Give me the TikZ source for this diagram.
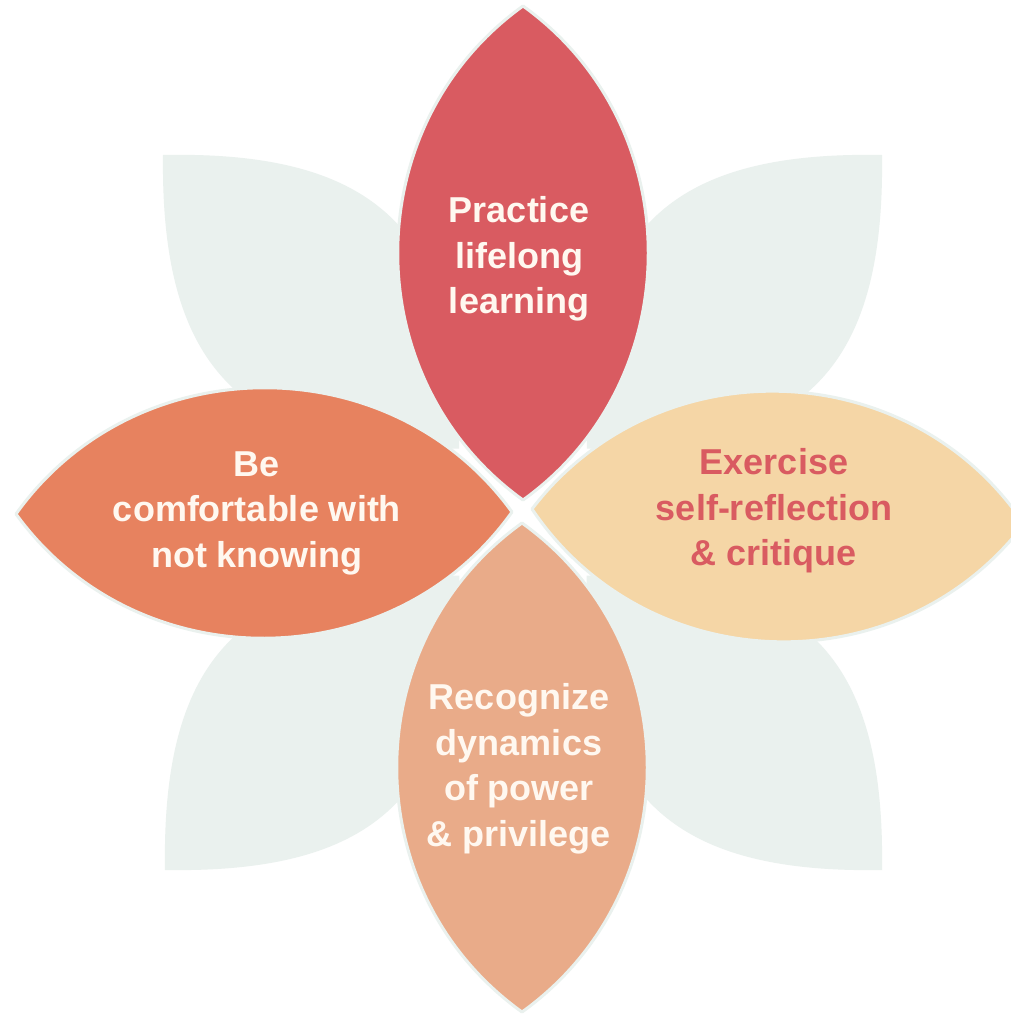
\documentclass[tikz,border=0pt]{standalone}
\usepackage{fontspec}
\newfontfamily\petalfont{Liberation Sans}
\usetikzlibrary{calc}

\definecolor{petalred}{HTML}{D95B61}
\definecolor{petalorange}{HTML}{E7825F}
\definecolor{petalpeach}{HTML}{F5D6A6}
\definecolor{petalsalmon}{HTML}{E9AB89}
\definecolor{leafpale}{HTML}{EAF1EE}
\definecolor{textcream}{HTML}{FFF8F0}

% A pointed leaf from tip #2 to tip #3: control points sit #4 along the axis
% and #5 off the axis, on both sides.
\newcommand\flowerleaf[5]{%
  \path[#1] (#2)
    .. controls ($(#2)!#4!(#3)!#5!90:(#3)$) and ($(#3)!#4!(#2)!#5!-90:(#2)$) .. (#3)
    .. controls ($(#3)!#4!(#2)!#5!90:(#2)$) and ($(#2)!#4!(#3)!#5!-90:(#3)$) .. (#2)
    -- cycle;}

\tikzset{
  paleleaf/.style={fill=leafpale},
  colorleaf/.style={fill=#1, draw=leafpale, line width=3pt, line join=round},
  petaltext/.style={text=#1, align=center,
    font=\petalfont\bfseries\fontsize{36}{45.5}\selectfont, inner sep=0pt},
}

\begin{document}
\begin{tikzpicture}[x=1pt,y=-1pt]
  \fill[white] (0,0) rectangle (1011,1014);
  \clip (0,0) rectangle (1011,1014);

  % diagonal background leaves
  \coordinate (ctr) at (523,512);
  \coordinate (tlOut) at (163,155);
  \coordinate (trOut) at (882,155);
  \coordinate (blOut) at (165,870);
  \coordinate (brOut) at (882,870);
  \coordinate (tlIn) at ($(ctr)!90pt!(tlOut)$);
  \coordinate (trIn) at ($(ctr)!90pt!(trOut)$);
  \coordinate (blIn) at ($(ctr)!90pt!(blOut)$);
  \coordinate (brIn) at ($(ctr)!90pt!(brOut)$);
  \flowerleaf{paleleaf}{tlOut}{tlIn}{150pt}{155pt}
  \flowerleaf{paleleaf}{trOut}{trIn}{150pt}{155pt}
  \flowerleaf{paleleaf}{blOut}{blIn}{150pt}{155pt}
  \flowerleaf{paleleaf}{brOut}{brIn}{150pt}{155pt}

  % coloured petals
  \coordinate (topOut) at (523,6);
  \coordinate (topIn) at (523,500);
  \coordinate (leftOut) at (16,514);
  \coordinate (leftIn) at (512,512);
  \coordinate (rightIn) at (532,509);
  \coordinate (rightOut) at (1024,524);
  \coordinate (botIn) at (522,523);
  \coordinate (botOut) at (522,1012);
  \flowerleaf{colorleaf=petalred}{topOut}{topIn}{120pt}{167pt}
  \flowerleaf{colorleaf=petalorange}{leftOut}{leftIn}{120pt}{167pt}
  \flowerleaf{colorleaf=petalpeach}{rightIn}{rightOut}{120pt}{167pt}
  \flowerleaf{colorleaf=petalsalmon}{botIn}{botOut}{120pt}{167pt}

  % labels
  \node[petaltext=textcream] (learn) at (519,259) {Practice\\lifelong\\learning};
  \node[petaltext=textcream] (unknown) at (257,513) {Be\\comfortable with\\not knowing};
  \node[petaltext=petalred] (reflect) at (774,511) {Exercise\\self-reflection\\\& critique};
  \node[petaltext=textcream] (power) at (519,769) {Recognize\\dynamics\\of power\\\& privilege};
\end{tikzpicture}
\end{document}
